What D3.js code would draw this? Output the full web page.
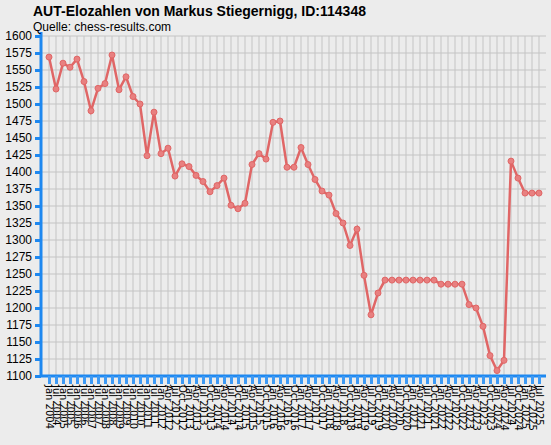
<!DOCTYPE html>
<html><head><meta charset="utf-8">
<script src="https://cdn.jsdelivr.net/npm/d3@7"></script>
<style>body{margin:0;background:#ececec;}svg{display:block;font-family:"DejaVu Sans",sans-serif;}</style>
</head><body><svg id="c" width="551" height="445"></svg>
<script>
const labels = ["Jan 2004","Jul 2004","Jan 2005","Jul 2005","Jan 2006","Jul 2006","Jan 2007","Jul 2007","Jan 2008","Jul 2008","Jan 2009","Jul 2009","Jan 2010","Jul 2010","Jan 2011","Jul 2011",
"Jan 2012","Apr 2012","Jul 2012","Oct 2012","Jan 2013","Apr 2013","Jul 2013","Oct 2013","Jan 2014","Apr 2014","Jul 2014","Oct 2014","Jan 2015","Apr 2015","Jul 2015","Oct 2015",
"Jan 2016","Apr 2016","Jul 2016","Oct 2016","Jan 2017","Apr 2017","Jul 2017","Oct 2017","Jan 2018","Apr 2018","Jul 2018","Oct 2018","Jan 2019","Apr 2019","Jul 2019","Oct 2019",
"Jan 2020","Apr 2020","Jul 2020","Oct 2020","Jan 2021","Apr 2021","Jul 2021","Oct 2021","Jan 2022","Apr 2022","Jul 2022","Oct 2022","Jan 2023","Apr 2023","Jul 2023","Oct 2023",
"Jan 2024","Apr 2024","Jul 2024","Oct 2024","Jan 2025","Apr 2025","Jul 2025"];
const elo = [1569,1522,1560,1554,1566,1533,1490,1523,1530,1572,1521,1540,1511,1500,1424,1488,1427,1435,1394,1412,1408,1395,1386,1371,1380,1391,1351,1346,1354,1411,1427,1419,1473,1475,1407,1407,1436,1411,1389,1372,1366,1339,1325,1292,1316,1248,1190,1222,
1241,1241,1241,1241,1241,1241,1241,1241,1235,1235,1235,1235,1205,1200,1173,1130,1108,1123,1416,1391,1369,1369,1369];
const yTicks = d3.range(1100,1601,25);

const svg = d3.select("#c");
const L=41,R=546,T=36,B=376;
const x = d3.scalePoint().domain(labels).range([49,539]);
const y = d3.scaleLinear().domain([1100,1600]).range([B,T]);

svg.append("g").selectAll("line").data(yTicks).join("line")
 .attr("x1",L).attr("x2",R).attr("y1",d=>y(d)).attr("y2",d=>y(d)).attr("stroke","#c4c4c4");
svg.append("g").selectAll("line").data(labels).join("line")
 .attr("x1",d=>x(d)).attr("x2",d=>x(d)).attr("y1",T).attr("y2",B).attr("stroke","#c4c4c4");

const ya = svg.append("g").attr("transform",`translate(${L},0)`).call(d3.axisLeft(y).tickValues(yTicks).tickFormat(d3.format("d")).tickSize(6).tickPadding(3));
ya.select(".domain").attr("stroke","#1e88f0").attr("stroke-width",3).attr("d",`M0,${T-4}V${B+1}`);
ya.selectAll(".tick line").attr("stroke","#1e88f0").attr("stroke-width",3);
ya.selectAll("text").attr("font-size",12).attr("fill","#000").attr("font-family","Liberation Sans, Arial");

const xa = svg.append("g").attr("transform",`translate(0,${B})`).call(d3.axisBottom(x).tickSize(8).tickPadding(4));
xa.select(".domain").attr("stroke","#1e88f0").attr("stroke-width",3).attr("d",`M${L-1},0H${R}`);
xa.selectAll(".tick line").attr("stroke","#3d9af5").attr("stroke-width",3);
xa.selectAll("text").attr("font-size",10).attr("fill","#000").attr("font-family","DejaVu Sans")
 .attr("transform","rotate(90)").attr("text-anchor","start").attr("x",9).attr("y",0).attr("dy","0.35em");

const pts = labels.map((l,i)=>[l,elo[i]]);
svg.append("path").datum(pts).attr("fill","none").attr("stroke","#e06666").attr("stroke-width",2.5)
 .attr("d",d3.line().x(d=>x(d[0])).y(d=>y(d[1])));
svg.append("g").selectAll("circle").data(pts).join("circle")
 .attr("cx",d=>x(d[0])).attr("cy",d=>y(d[1])).attr("r",3).attr("fill","#e88080").attr("stroke","#e06666").attr("stroke-width",1);

svg.append("text").attr("x",33).attr("y",16).attr("font-size",14).attr("font-weight","bold").attr("font-family","Liberation Sans, Arial").text("AUT-Elozahlen von Markus Stiegernigg, ID:114348");
svg.append("text").attr("x",33).attr("y",31).attr("font-size",12).attr("font-family","Liberation Sans, Arial").text("Quelle: chess-results.com");
</script></body></html>
